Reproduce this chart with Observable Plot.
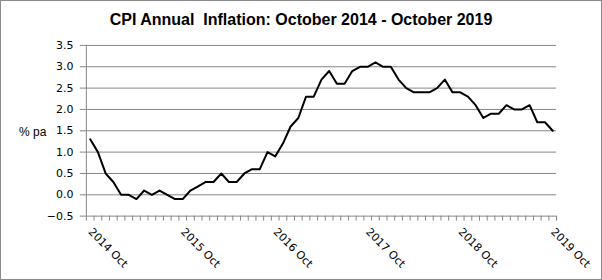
<!DOCTYPE html>
<html>
<head>
<meta charset="utf-8">
<script src="https://cdn.jsdelivr.net/npm/d3@7"></script>
<script src="https://cdn.jsdelivr.net/npm/@observablehq/plot@0.6"></script>
<style>
  html, body { margin: 0; padding: 0; background: #fff; }
  #chart { position: relative; width: 602px; height: 280px; box-sizing: border-box; border: 1px solid #8c8c8c; overflow: hidden; }
  #title { position: absolute; left: -1px; top: 10px; width: 602px; text-align: center; font: bold 16px "Liberation Sans", Arial, sans-serif; line-height: 18px; white-space: pre; color: #000; }
  #ylabel { position: absolute; left: 18px; top: 124px; font: 12px "Liberation Sans", Arial, sans-serif; line-height: 14px; color: #000; }
  #plot { position: absolute; left: -1px; top: -1px; }
</style>
</head>
<body>
<div id="chart">
  <div id="plot"></div>
  <div id="title">CPI Annual  Inflation: October 2014 - October 2019</div>
  <div id="ylabel">% pa</div>
</div>
<script>
const months = [
  "2014 Oct","2014 Nov","2014 Dec",
  "2015 Jan","2015 Feb","2015 Mar","2015 Apr","2015 May","2015 Jun","2015 Jul","2015 Aug","2015 Sep","2015 Oct","2015 Nov","2015 Dec",
  "2016 Jan","2016 Feb","2016 Mar","2016 Apr","2016 May","2016 Jun","2016 Jul","2016 Aug","2016 Sep","2016 Oct","2016 Nov","2016 Dec",
  "2017 Jan","2017 Feb","2017 Mar","2017 Apr","2017 May","2017 Jun","2017 Jul","2017 Aug","2017 Sep","2017 Oct","2017 Nov","2017 Dec",
  "2018 Jan","2018 Feb","2018 Mar","2018 Apr","2018 May","2018 Jun","2018 Jul","2018 Aug","2018 Sep","2018 Oct","2018 Nov","2018 Dec",
  "2019 Jan","2019 Feb","2019 Mar","2019 Apr","2019 May","2019 Jun","2019 Jul","2019 Aug","2019 Sep","2019 Oct"
];
const cpi = [
  1.3, 1.0, 0.5,
  0.3, 0.0, 0.0, -0.1, 0.1, 0.0, 0.1, 0.0, -0.1, -0.1, 0.1, 0.2,
  0.3, 0.3, 0.5, 0.3, 0.3, 0.5, 0.6, 0.6, 1.0, 0.9, 1.2, 1.6,
  1.8, 2.3, 2.3, 2.7, 2.9, 2.6, 2.6, 2.9, 3.0, 3.0, 3.1, 3.0,
  3.0, 2.7, 2.5, 2.4, 2.4, 2.4, 2.5, 2.7, 2.4, 2.4, 2.3, 2.1,
  1.8, 1.9, 1.9, 2.1, 2.0, 2.0, 2.1, 1.7, 1.7, 1.5
];
const xTickLabels = ["2014 Oct","2015 Oct","2016 Oct","2017 Oct","2018 Oct","2019 Oct"];
const yTicks = [-0.5, 0.0, 0.5, 1.0, 1.5, 2.0, 2.5, 3.0, 3.5];

const data = months.map((m, i) => ({i, month: m, value: cpi[i]}));
const labelRows = data.filter(d => xTickLabels.includes(d.month));
const boundaries = d3.range(months.length + 1).map(i => i - 0.5);
const xMin = -0.5, xMax = months.length - 0.5;
const yMin = yTicks[0], yMax = yTicks[yTicks.length - 1];
const axisColor = "#868686";

const chart = Plot.plot({
  width: 602,
  height: 280,
  marginLeft: 86,
  marginRight: 45,
  marginTop: 45,
  marginBottom: 64,
  x: {type: "linear", domain: [xMin, xMax], axis: null},
  y: {type: "linear", domain: [yMin, yMax], axis: null},
  style: {background: "transparent", overflow: "visible"},
  marks: [
    // horizontal gridlines with outward tick on the left
    Plot.ruleY(yTicks, {x1: xMin, x2: xMax, insetLeft: -6, stroke: axisColor, strokeWidth: 1}),
    // y axis line
    Plot.ruleX([xMin], {y1: yMin, y2: yMax, stroke: axisColor, strokeWidth: 1}),
    // x tick marks at every month boundary
    Plot.ruleX(boundaries, {y1: yMin, y2: yMin, insetBottom: -5, stroke: axisColor, strokeWidth: 1}),
    // y tick labels
    Plot.text(yTicks, {x: xMin, y: d => d, text: d => d3.format(".1f")(d), textAnchor: "end", dx: -13,
      fontFamily: "DejaVu Sans, Verdana, sans-serif", fontSize: 11, fill: "#000"}),
    // x tick labels rotated
    Plot.text(labelRows, {x: "i", y: yMin, text: "month", rotate: 45, textAnchor: "start", dy: 14,
      fontFamily: "DejaVu Sans, Verdana, sans-serif", fontSize: 11, fill: "#000"}),
    // the series
    Plot.line(data, {x: "i", y: "value", stroke: "#000", strokeWidth: 2, strokeLinejoin: "round"})
  ]
});
document.getElementById("plot").appendChild(chart);
</script>
</body>
</html>
